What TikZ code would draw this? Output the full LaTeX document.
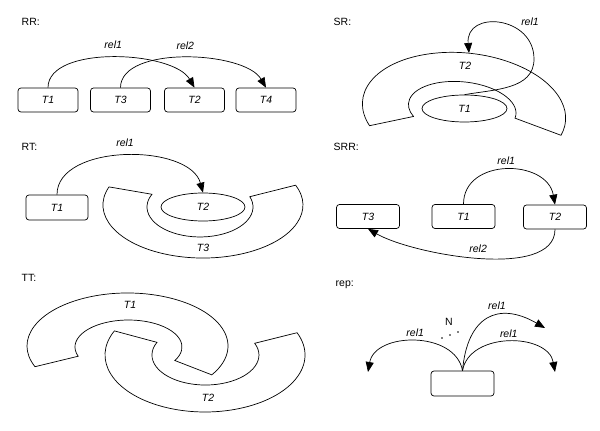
\documentclass[tikz,border=0pt]{standalone}
\usepackage{fontspec}
\setmainfont{Liberation Sans}
\usetikzlibrary{shapes.geometric}
\usetikzlibrary{arrows.meta}

\begin{document}
\begin{tikzpicture}[x=1pt,y=1pt,line width=0.7pt,
	txt/.style={font=\fontsize{10.5}{12}\selectfont},
	itx/.style={font=\fontsize{10.5}{12}\selectfont\itshape},
	tbox/.style={draw,rounded corners=3pt,minimum width=60pt,minimum height=24pt,inner sep=0pt,itx},
	tell/.style={draw,ellipse,inner sep=0pt,itx},
	rel/.style={-{Triangle[length=10pt,width=8pt]}}]
	\useasboundingbox (0,0) rectangle (600,431);

	\node[txt,anchor=west] (rrlab) at (18,409) {RR:};
	\node[tbox] (rrT1) at (48,331) {T1};
	\node[tbox] (rrT3) at (120.5,331) {T3};
	\node[tbox] (rrT2) at (194.5,331) {T2};
	\node[tbox] (rrT4) at (266,331) {T4};
	\draw[rel] (rrT1.north) to[out=90,in=120,looseness=0.75] node[itx,above=5pt] (rrl1) {rel1} (rrT2.north);
	\draw[rel] (rrT3.north) to[out=90,in=120,looseness=0.75] node[itx,above=5pt] (rrl2) {rel2} (rrT4.north);

	\node[txt,anchor=west] (srlab) at (330,409) {SR:};
	\draw[rotate around={-6:(464,320)}] (371.6,295.5) arc[start angle=205,end angle=-14,x radius=102,y radius=58] -- (515.5,318.2) arc[start angle=-8,end angle=208,x radius=54,y radius=27] -- cycle;
	\node[tell,minimum width=85pt,minimum height=27pt] (srT1) at (464.5,322.5) {T1};
	\node[itx] (srT2) at (465,365) {T2};
	\coordinate (srbend) at (534,372);
	\coordinate (srtip) at (469,378);
	\draw[rel] (srT1.north) to[out=10,in=-90,looseness=1] (srbend) to[out=90,in=95,looseness=1.7] (srtip);
	\node[itx] (srl1) at (530,409) {rel1};

	\node[txt,anchor=west] (rtlab) at (18,284) {RT:};
	\node[tbox,minimum width=62pt,minimum height=25pt] (rtT1) at (57,223.5) {T1};
	\draw (109,244.1) arc[start angle=160,end angle=382,x radius=100,y radius=53] -- (249.8,234.3) arc[start angle=20,end angle=-205,x radius=53,y radius=30] -- cycle;
	\node[tell,minimum width=84pt,minimum height=28pt] (rtT2) at (203,224) {T2};
	\node[itx] (rtT3) at (203,183) {T3};
	\draw[rel] (rtT1.north) to[out=90,in=105,looseness=0.9] node[itx,above=5pt] (rtl1) {rel1} (rtT2.north);

	\node[txt,anchor=west] (srrlab) at (330,284) {SRR:};
	\node[tbox,minimum width=63pt] (srrT3) at (368,214.5) {T3};
	\node[tbox,minimum width=63pt] (srrT1) at (463.5,214.5) {T1};
	\node[tbox,minimum width=63pt] (srrT2) at (555,214) {T2};
	\draw[rel] (srrT1.north) to[out=90,in=100,looseness=1.3] node[itx,above=1pt] (srrl1) {rel1} (srrT2.north);
	\draw[rel] (srrT2.south) to[out=-90,in=-30,looseness=0.7] node[itx,above=2pt] (srrl2) {rel2} (srrT3.south);

	\node[txt,anchor=west] (ttlab) at (18,153) {TT:};
	\draw (35,64.3) arc[start angle=203,end angle=-33,x radius=100.5,y radius=53] -- (174.8,70.5) arc[start angle=-30,end angle=200,x radius=53.5,y radius=27] -- cycle;
	\draw (114.4,100.1) arc[start angle=155,end angle=383,x radius=100,y radius=57] -- (254.7,87.7) arc[start angle=23,end angle=-205,x radius=53.5,y radius=30] -- cycle;
	\node[itx] (ttT1) at (130,126) {T1};
	\node[itx] (ttT2) at (208,33) {T2};

	\node[txt,anchor=west] (replab) at (332,146) {rep:};
	\node[tbox,minimum width=63pt,minimum height=25pt] (repbox) at (462.5,47.5) {};
	\coordinate (repl) at (368,59);
	\coordinate (repr1) at (545,103);
	\coordinate (repr2) at (555,59);
	\draw[rel] (repbox.north) to[out=100,in=80,looseness=1.1] node[itx,above=1pt] (repl1) {rel1} (repl);
	\draw[rel] (repbox.north) to[out=85,in=150,looseness=1.5] node[itx,pos=0.6,above=2pt] (repl2) {rel1} (repr1);
	\draw[rel] (repbox.north) to[out=80,in=100,looseness=1.1] node[itx,above=1pt] (repl3) {rel1} (repr2);
	\node[txt] (repN) at (449,109) {N};
	\fill (442,93) circle (0.8);
	\fill (450,96) circle (0.8);
	\fill (458,99) circle (0.8);
\end{tikzpicture}
\end{document}
